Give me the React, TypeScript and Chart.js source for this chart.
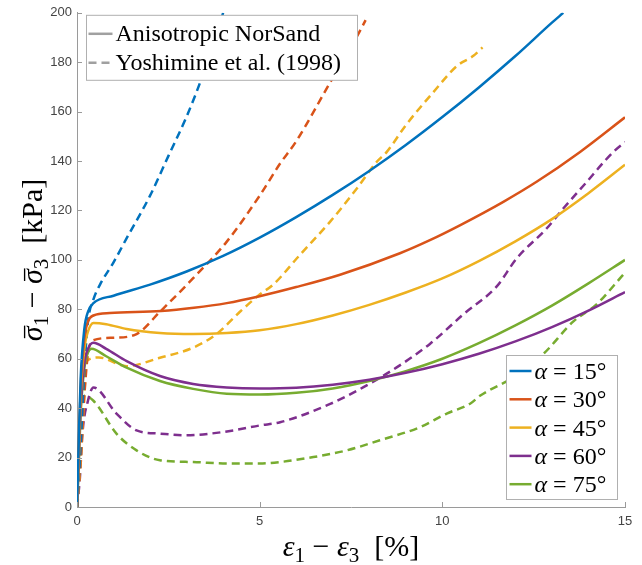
import React, { useEffect, useRef } from "react";
import { Chart, registerables } from "chart.js";

Chart.register(...registerables);

// ---------- data ----------
const COLORS = ["#0072BD", "#D95319", "#EDB120", "#7E2F8E", "#77AC30"];
const angleLabels = ["15", "30", "45", "60", "75"];
const modelLabel = "Anisotropic NorSand";
const testLabel = "Yoshimine et al. (1998)";
const xRange = [0, 15];
const yRange = [0, 200];
const xStep = 5;
const yStep = 20;

// Anisotropic NorSand (solid)
const ns15X = [0, 0.05, 0.1, 0.2, 0.3, 0.45, 1, 2, 3, 4, 5, 6, 7, 8, 9, 10, 11, 12, 13, 13.31];
const ns15Y = [0, 28, 52, 72, 79, 82.5, 85.5, 90, 95.3, 101.6, 109, 117.3, 126.3, 136, 146.5, 157.8, 169.8, 182.5, 196, 200];
const ns30X = [0, 0.05, 0.1, 0.2, 0.3, 0.45, 0.9, 2.3, 3.2, 4.1, 5, 6, 7.2, 8.84, 9.66, 10.48, 11.67, 12.58, 13.77, 15];
const ns30Y = [0, 25, 48, 68, 75, 77.5, 78.5, 79.3, 80.6, 82.5, 85.3, 89, 94, 102.7, 108, 114, 123.5, 131.6, 143.7, 157.7];
const ns45X = [0, 0.05, 0.1, 0.2, 0.3, 0.45, 0.8, 1.36, 2.27, 3.18, 4.1, 5, 6, 7, 8, 9, 10, 11, 12, 13, 14, 15];
const ns45Y = [0, 22, 45, 64, 71, 74.5, 74, 72, 70.4, 70, 70.4, 71.5, 74, 77.5, 81.8, 86.8, 92.5, 99.5, 107.5, 116.5, 127, 138.5];
const ns60X = [0, 0.05, 0.1, 0.2, 0.3, 0.45, 0.8, 1.36, 2.27, 3.18, 4.1, 5, 6, 7, 8, 9, 10, 11, 12, 13, 14, 15];
const ns60Y = [0, 20, 40, 58, 64, 66.5, 64, 59, 53, 49.8, 48.4, 48, 48.3, 49.5, 51.5, 54.3, 57.8, 62, 67, 72.8, 79.5, 87];
const ns75X = [0, 0.05, 0.1, 0.2, 0.3, 0.4, 0.8, 1.36, 2.27, 3.18, 4.1, 5, 6, 7, 8, 9, 10, 11, 12, 13, 14, 15];
const ns75Y = [0, 18, 38, 56, 62.5, 64, 61, 56.4, 51, 47.8, 45.8, 45.5, 46.2, 48, 51, 55, 60, 66.3, 73.5, 81.5, 90.5, 100];

// Yoshimine et al. (1998) (dashed)
const yo15X = [0, 0.1, 0.2, 0.3, 0.45, 0.63, 1, 1.36, 2, 2.5, 3, 3.45, 3.7, 4.0];
const yo15Y = [0, 25, 55, 75, 84, 90, 99, 108.8, 126, 142, 158, 175, 186, 200];
const yo30X = [0, 0.1, 0.2, 0.3, 0.45, 1, 1.63, 2.27, 3.18, 4.1, 5, 5.56, 6, 6.93, 7.5, 7.9];
const yo30Y = [0, 20, 45, 62, 67.5, 68.5, 70, 79, 92.6, 107.4, 126, 139, 148, 171.8, 186, 197];
const yo45X = [0, 0.1, 0.2, 0.26, 0.6, 1.36, 2.27, 3.18, 3.82, 4.46, 5, 5.37, 6.1, 6.93, 7.66, 8.2, 8.48, 9, 9.75, 10.4, 10.85, 11.1];
const yo45Y = [0, 18, 45, 59, 60.5, 57, 60.4, 64.5, 70, 79, 86, 90, 102, 115.5, 128.9, 139.6, 143.7, 154.5, 167.8, 178.5, 182.6, 186];
const yo60X = [0, 0.08, 0.15, 0.3, 0.45, 1.08, 1.63, 2.27, 3.0, 3.65, 4.28, 5, 5.56, 6.93, 7.83, 8.75, 9.66, 10.57, 11.49, 12.04, 12.86, 13.31, 13.86, 14.68, 15];
const yo60Y = [0, 12, 30, 43, 48.4, 37.8, 31, 29.7, 29, 29.7, 31, 33, 34.3, 41.7, 48.4, 56.5, 66, 77.9, 89.3, 100.7, 112.8, 120.8, 130, 143.7, 147.7];
const yo75X = [0, 0.05, 0.1, 0.2, 0.45, 1.08, 1.63, 2.27, 3.18, 4.1, 5, 5.56, 6.47, 7.38, 8.29, 9.39, 10.12, 10.76, 11.03, 12.0, 12.77, 13.58, 14.22, 14.95];
const yo75Y = [0, 12, 28, 45, 43, 29.7, 22.9, 18.9, 18.2, 17.6, 17.6, 18.2, 20.2, 22.9, 27, 32.3, 37.8, 41.8, 45, 53, 62, 75, 82, 94];

const modelSeries = [
  [ns15X, ns15Y],
  [ns30X, ns30Y],
  [ns45X, ns45Y],
  [ns60X, ns60Y],
  [ns75X, ns75Y],
];
const testSeries = [
  [yo15X, yo15Y],
  [yo30X, yo30Y],
  [yo45X, yo45Y],
  [yo60X, yo60Y],
  [yo75X, yo75Y],
];

// ---------- styles ----------
const SERIF = '"Liberation Serif", "Times New Roman", serif';
const SANS = '"Liberation Sans", Arial, sans-serif';
const AXIS_COLOR = "#9a9a9a";
const LEGEND_GRAY = "#a0a0a0";
const DASH = [8, 5];
const LW = 2.5;

type Run = { t: string; size: number; italic?: boolean; dy?: number; bar?: boolean };

function fontOf(r: Run) {
  return `${r.italic ? "italic " : ""}${r.size}px ${SERIF}`;
}
function runsWidth(ctx: CanvasRenderingContext2D, runs: Run[]) {
  let w = 0;
  for (const r of runs) {
    ctx.font = fontOf(r);
    w += ctx.measureText(r.t).width;
  }
  return w;
}
function drawRuns(ctx: CanvasRenderingContext2D, runs: Run[], x: number, y: number) {
  let cx = x;
  for (const r of runs) {
    ctx.font = fontOf(r);
    const w = ctx.measureText(r.t).width;
    ctx.fillText(r.t, cx, y + (r.dy || 0));
    if (r.bar) {
      const by = y + (r.dy || 0) - r.size * 0.58;
      ctx.save();
      ctx.lineWidth = Math.max(1, r.size * 0.045);
      ctx.beginPath();
      ctx.moveTo(cx + w * 0.2, by);
      ctx.lineTo(cx + w * 1.05, by);
      ctx.stroke();
      ctx.restore();
    }
    cx += w;
  }
}

const TITLE = 30;
const SUB = 21;
const xTitleRuns: Run[] = [
  { t: "ε", size: TITLE, italic: true },
  { t: "1", size: SUB, dy: 6 },
  { t: " − ", size: TITLE },
  { t: "ε", size: TITLE, italic: true },
  { t: "3", size: SUB, dy: 6 },
  { t: "  [%]", size: TITLE },
];
const yTitleRuns: Run[] = [
  { t: "σ", size: TITLE, italic: true, bar: true },
  { t: "1", size: SUB, dy: 6 },
  { t: " − ", size: TITLE },
  { t: "σ", size: TITLE, italic: true, bar: true },
  { t: "3", size: SUB, dy: 6 },
  { t: "  [kPa]", size: TITLE },
];

const decorPlugin = {
  id: "decor",
  afterDatasetsDraw(chart: any) {
    const ctx: CanvasRenderingContext2D = chart.ctx;
    const ca = chart.chartArea;
    const xs = chart.scales.x;
    const ys = chart.scales.y;
    ctx.save();

    // inward ticks
    ctx.strokeStyle = AXIS_COLOR;
    ctx.lineWidth = 1;
    ctx.beginPath();
    for (const t of xs.ticks) {
      const px = Math.round(xs.getPixelForValue(t.value)) + 0.5;
      ctx.moveTo(px, ca.bottom);
      ctx.lineTo(px, ca.bottom - 5);
    }
    for (const t of ys.ticks) {
      const py = Math.round(ys.getPixelForValue(t.value)) + 0.5;
      ctx.moveTo(ca.left, py);
      ctx.lineTo(ca.left + 5, py);
    }
    ctx.stroke();

    // legend 1 (line styles)
    const l1x = ca.left + 9.5;
    const l1y = ca.top + 2.5;
    const l1w = 271;
    const l1h = 65;
    ctx.fillStyle = "#ffffff";
    ctx.fillRect(l1x, l1y, l1w, l1h);
    ctx.strokeStyle = "#b0b0b0";
    ctx.lineWidth = 1;
    ctx.strokeRect(l1x, l1y, l1w, l1h);
    const rows1 = [
      { label: modelLabel, dash: [] as number[] },
      { label: testLabel, dash: DASH },
    ];
    rows1.forEach((r, i) => {
      const cy = l1y + 18.5 + i * 29;
      ctx.strokeStyle = LEGEND_GRAY;
      ctx.lineWidth = LW;
      ctx.setLineDash(r.dash);
      ctx.beginPath();
      ctx.moveTo(l1x + 2, cy);
      ctx.lineTo(l1x + 26, cy);
      ctx.stroke();
      ctx.setLineDash([]);
      ctx.fillStyle = "#000";
      ctx.textBaseline = "middle";
      ctx.textAlign = "left";
      ctx.font = `24px ${SERIF}`;
      ctx.fillText(r.label, l1x + 29, cy + 1);
    });

    // legend 2 (angles)
    const l2w = 111;
    const l2h = 144;
    const l2x = ca.right - 7.5 - l2w;
    const l2y = ca.bottom - 7.5 - l2h;
    ctx.fillStyle = "#ffffff";
    ctx.fillRect(l2x, l2y, l2w, l2h);
    ctx.strokeStyle = "#b0b0b0";
    ctx.lineWidth = 1;
    ctx.strokeRect(l2x, l2y, l2w, l2h);
    angleLabels.forEach((a, i) => {
      const cy = l2y + 15.5 + i * 28.3;
      ctx.strokeStyle = COLORS[i];
      ctx.lineWidth = LW;
      ctx.beginPath();
      ctx.moveTo(l2x + 3, cy);
      ctx.lineTo(l2x + 25, cy);
      ctx.stroke();
      ctx.fillStyle = "#000";
      ctx.textBaseline = "alphabetic";
      ctx.textAlign = "left";
      drawRuns(
        ctx,
        [
          { t: "α", size: 24, italic: true },
          { t: " = " + a + "°", size: 24 },
        ],
        l2x + 28,
        cy + 8
      );
    });

    // axis titles
    ctx.fillStyle = "#000";
    ctx.strokeStyle = "#000";
    ctx.textBaseline = "alphabetic";
    ctx.textAlign = "left";
    const xw = runsWidth(ctx, xTitleRuns);
    drawRuns(ctx, xTitleRuns, (ca.left + ca.right) / 2 - xw / 2, 556);

    const yw = runsWidth(ctx, yTitleRuns);
    ctx.save();
    ctx.translate(42, (ca.top + ca.bottom) / 2);
    ctx.rotate(-Math.PI / 2);
    drawRuns(ctx, yTitleRuns, -yw / 2, 0);
    ctx.restore();

    ctx.restore();
  },
};

export default function App() {
  const ref = useRef<HTMLCanvasElement | null>(null);

  useEffect(() => {
    document.body.style.margin = "0";
    const canvas = ref.current;
    if (!canvas) return;

    const datasets: any[] = [];
    modelSeries.forEach(([xs, ys], i) => {
      datasets.push({
        label: `${modelLabel} α=${angleLabels[i]}°`,
        data: xs.map((x, k) => ({ x, y: ys[k] })),
        borderColor: COLORS[i],
        borderWidth: LW,
        pointRadius: 0,
        fill: false,
        cubicInterpolationMode: "monotone",
      });
    });
    testSeries.forEach(([xs, ys], i) => {
      datasets.push({
        label: `${testLabel} α=${angleLabels[i]}°`,
        data: xs.map((x, k) => ({ x, y: ys[k] })),
        borderColor: COLORS[i],
        borderWidth: LW,
        borderDash: DASH,
        pointRadius: 0,
        fill: false,
        cubicInterpolationMode: "monotone",
      });
    });

    const chart = new Chart(canvas, {
      type: "line",
      data: { datasets },
      options: {
        animation: false,
        responsive: false,
        devicePixelRatio: 1,
        layout: { padding: { top: 10, right: 17, left: 0, bottom: 0 } },
        plugins: {
          legend: { display: false },
          tooltip: { enabled: false },
        },
        scales: {
          x: {
            type: "linear",
            min: xRange[0],
            max: xRange[1],
            afterFit: (s: any) => {
              s.height = 58;
            },
            grid: { display: false, drawTicks: false },
            border: { display: true, color: AXIS_COLOR, width: 1 },
            ticks: {
              stepSize: xStep,
              padding: 7,
              maxRotation: 0,
              color: "#444",
              font: { family: SANS, size: 13 },
            },
          },
          y: {
            type: "linear",
            min: yRange[0],
            max: yRange[1],
            afterFit: (s: any) => {
              s.width = 77;
            },
            grid: { display: false, drawTicks: false },
            border: { display: true, color: AXIS_COLOR, width: 1 },
            ticks: {
              stepSize: yStep,
              padding: 5,
              color: "#444",
              font: { family: SANS, size: 13 },
            },
          },
        },
      },
      plugins: [decorPlugin],
    });
    return () => chart.destroy();
  }, []);

  return (
    <div style={{ width: 642, height: 565 }}>
      <canvas ref={ref} width={642} height={565} style={{ display: "block" }} />
    </div>
  );
}
